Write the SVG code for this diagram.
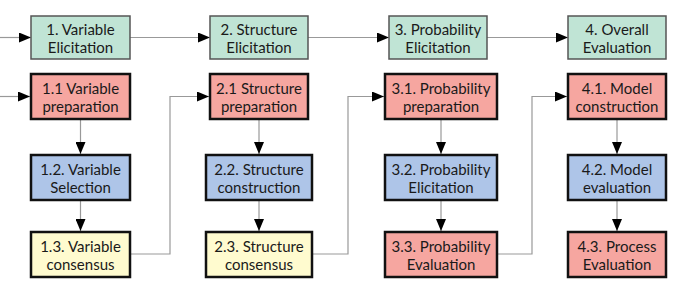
<svg xmlns="http://www.w3.org/2000/svg" width="680" height="298" viewBox="0 0 680 298">
<style>
.t{font-family:Lato,"Open Sans",sans-serif;font-size:15px;fill:#1a1a1a;text-anchor:middle}
.g{fill:#c0e4d5;stroke:#555;stroke-width:1.5}
.r{fill:#f6a6a0;stroke:#111;stroke-width:2.5}
.b{fill:#aec5e8;stroke:#111;stroke-width:2.5}
.y{fill:#fffbcf;stroke:#111;stroke-width:2.5}
.c{fill:none;stroke:#999;stroke-width:1.2}
</style>
<defs>
<marker id="ah" viewBox="0 0 12 10" refX="12" refY="5" markerWidth="12" markerHeight="10" markerUnits="userSpaceOnUse" orient="auto">
<path d="M0,0 L12,5 L0,10 z" fill="#000"/>
</marker>
</defs>
<rect width="680" height="298" fill="#fff"/>
<g id="connectors">
<path class="c" d="M0,37.5 H31" marker-end="url(#ah)"/>
<path class="c" d="M130,37.5 H210" marker-end="url(#ah)"/>
<path class="c" d="M308,37.5 H389" marker-end="url(#ah)"/>
<path class="c" d="M487,37.5 H568" marker-end="url(#ah)"/>
<path class="c" d="M0,96.5 H30" marker-end="url(#ah)"/>
<path class="c" d="M80.5,119 V154" marker-end="url(#ah)"/>
<path class="c" d="M80.5,200 V231" marker-end="url(#ah)"/>
<path class="c" d="M130,254 H170 V96.5 H209" marker-end="url(#ah)"/>
<path class="c" d="M259,119 V154" marker-end="url(#ah)"/>
<path class="c" d="M259,200 V231" marker-end="url(#ah)"/>
<path class="c" d="M312,254 H348 V96.5 H384" marker-end="url(#ah)"/>
<path class="c" d="M441,119 V154" marker-end="url(#ah)"/>
<path class="c" d="M441,200 V231" marker-end="url(#ah)"/>
<path class="c" d="M497,254 H532 V96.5 H567" marker-end="url(#ah)"/>
<path class="c" d="M617,119 V154" marker-end="url(#ah)"/>
<path class="c" d="M617,200 V231" marker-end="url(#ah)"/>
</g>
<g id="n1"><rect class="g" x="31" y="16" width="99" height="43"/><text class="t" x="80.5" y="35">1. Variable</text><text class="t" x="80.5" y="53">Elicitation</text></g>
<g id="n2"><rect class="g" x="210" y="16" width="98" height="43"/><text class="t" x="259" y="35">2. Structure</text><text class="t" x="259" y="53">Elicitation</text></g>
<g id="n3"><rect class="g" x="389" y="16" width="98" height="43"/><text class="t" x="438" y="35">3. Probability</text><text class="t" x="438" y="53">Elicitation</text></g>
<g id="n4"><rect class="g" x="568" y="16" width="98" height="43"/><text class="t" x="617" y="35">4. Overall</text><text class="t" x="617" y="53">Evaluation</text></g>

<g id="n11"><rect class="r" x="31" y="74" width="99" height="45"/><text class="t" x="80.5" y="94">1.1 Variable</text><text class="t" x="80.5" y="112">preparation</text></g>
<g id="n21"><rect class="r" x="210" y="74" width="98" height="45"/><text class="t" x="259" y="94">2.1 Structure</text><text class="t" x="259" y="112">preparation</text></g>
<g id="n31"><rect class="r" x="385" y="74" width="112" height="45"/><text class="t" x="441" y="94">3.1. Probability</text><text class="t" x="441" y="112">preparation</text></g>
<g id="n41"><rect class="r" x="568" y="74" width="98" height="45"/><text class="t" x="617" y="94">4.1. Model</text><text class="t" x="617" y="112">construction</text></g>

<g id="n12"><rect class="b" x="31" y="155" width="99" height="45"/><text class="t" x="80.5" y="175">1.2. Variable</text><text class="t" x="80.5" y="193">Selection</text></g>
<g id="n22"><rect class="b" x="206" y="155" width="106" height="45"/><text class="t" x="259" y="175">2.2. Structure</text><text class="t" x="259" y="193">construction</text></g>
<g id="n32"><rect class="b" x="385" y="155" width="112" height="45"/><text class="t" x="441" y="175">3.2. Probability</text><text class="t" x="441" y="193">Elicitation</text></g>
<g id="n42"><rect class="b" x="568" y="155" width="98" height="45"/><text class="t" x="617" y="175">4.2. Model</text><text class="t" x="617" y="193">evaluation</text></g>

<g id="n13"><rect class="y" x="31" y="232" width="99" height="45"/><text class="t" x="80.5" y="252">1.3. Variable</text><text class="t" x="80.5" y="270">consensus</text></g>
<g id="n23"><rect class="y" x="206" y="232" width="106" height="45"/><text class="t" x="259" y="252">2.3. Structure</text><text class="t" x="259" y="270">consensus</text></g>
<g id="n33"><rect class="r" x="385" y="232" width="112" height="45"/><text class="t" x="441" y="252">3.3. Probability</text><text class="t" x="441" y="270">Evaluation</text></g>
<g id="n43"><rect class="r" x="568" y="232" width="98" height="45"/><text class="t" x="617" y="252">4.3. Process</text><text class="t" x="617" y="270">Evaluation</text></g>
</svg>
